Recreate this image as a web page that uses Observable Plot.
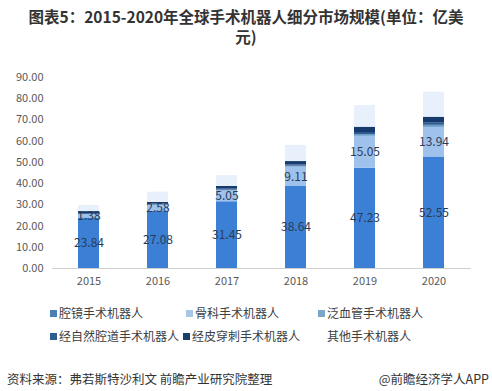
<!DOCTYPE html>
<html>
<head>
<meta charset="utf-8">
<script src="https://cdn.jsdelivr.net/npm/d3@7"></script>
<script src="https://cdn.jsdelivr.net/npm/@observablehq/plot@0.6"></script>
<style>
  html, body { margin: 0; padding: 0; background: #fff; }
  body { width: 492px; height: 391px; position: relative; overflow: hidden;
         font-family: "Noto Sans CJK SC", "Noto Sans", sans-serif; }
  #title { position: absolute; left: 0; top: 6px; width: 492px; text-align: center;
           font-size: 15.5px; font-weight: bold; color: #333; line-height: 20px; }
  #chart { position: absolute; left: 0; top: 55px; }
  .leg { position: absolute; font-size: 12px; color: #404040; white-space: nowrap; line-height: 16px; }
  .leg i { display: inline-block; width: 7px; height: 7px; margin-right: 2px; vertical-align: 1px; }
  #src { position: absolute; left: 7px; top: 369px; font-size: 12.5px; color: #333; }
  #app { position: absolute; right: 3px; top: 369px; font-size: 12.5px; color: #333; }
</style>
</head>
<body>
<div id="title">图表5：2015-2020年全球手术机器人细分市场规模(单位：亿美<br>元)</div>
<div id="chart"></div>
<div id="legend"></div>
<div id="src">资料来源：弗若斯特沙利文 前瞻产业研究院整理</div>
<div id="app">@前瞻经济学人APP</div>
<script>
const years = ["2015", "2016", "2017", "2018", "2019", "2020"];
const seriesNames = ["腔镜手术机器人", "骨科手术机器人", "泛血管手术机器人", "经自然腔道手术机器人", "经皮穿刺手术机器人", "其他手术机器人"];
const laparoscopic = [23.84, 27.08, 31.45, 38.64, 47.23, 52.55];
const orthopedic = [1.38, 2.58, 5.05, 9.11, 15.05, 13.94];
const vascular = [0.3, 0.3, 0.4, 0.45, 0.8, 1.0];
const naturalOrifice = [0.4, 0.4, 0.5, 0.6, 1.0, 1.2];
const percutaneous = [0.9, 0.8, 1.3, 1.6, 2.5, 2.6];
const others = [2.9, 4.8, 5.1, 7.6, 10.2, 11.8];
const yTicks = [0, 10, 20, 30, 40, 50, 60, 70, 80, 90];
const colors = ["#3c80d6", "#9ec2ec", "#6a9dc9", "#2d5b91", "#173a6e", "#e8f1fb"];
const legendColors = ["#4a80b8", "#a9c8e8", "#7aa6c8", "#2f5d8e", "#1d3d6c", "#ffffff"];

const seriesValues = [laparoscopic, orthopedic, vascular, naturalOrifice, percutaneous, others];
const labeled = [true, true, false, false, false, false];
const table = [];
seriesNames.forEach((s, si) => {
  years.forEach((yr, yi) => {
    table.push({year: yr, series: s, value: seriesValues[si][yi],
                label: labeled[si] ? seriesValues[si][yi].toFixed(2) : null});
  });
});

const chart = Plot.plot({
  width: 492,
  height: 240,
  marginLeft: 52,
  marginRight: 21,
  marginTop: 22,
  marginBottom: 27,
  style: {fontFamily: "'Noto Sans CJK SC', 'Noto Sans', sans-serif", fontSize: "11px", color: "#595959", background: "transparent"},
  x: {domain: years, paddingInner: 0.69, paddingOuter: 0.34, label: null, tickSize: 0, tickPadding: 9},
  y: {domain: [0, 90], ticks: yTicks, tickFormat: d3.format(".2f"), label: null, tickSize: 0, tickPadding: 9},
  color: {domain: seriesNames, range: colors},
  marks: [
    Plot.barY(table, Plot.stackY({x: "year", y: "value", z: "series", fill: "series", order: seriesNames})),
    Plot.text(table, Plot.stackY({x: "year", y: "value", z: "series", order: seriesNames, text: "label",
      fill: "#2b3c58", fontSize: 12})),
    Plot.ruleY([0], {stroke: "#d0d0d0"})
  ]
});
document.getElementById("chart").appendChild(chart);

const legPos = [[50, 305], [186, 305], [318, 305], [50, 328], [183, 328], [318, 328]];
const legend = document.getElementById("legend");
seriesNames.forEach((s, i) => {
  const d = document.createElement("div");
  d.className = "leg";
  d.style.left = legPos[i][0] + "px";
  d.style.top = legPos[i][1] + "px";
  d.innerHTML = `<i style="background:${legendColors[i]}"></i>${s}`;
  legend.appendChild(d);
});
</script>
</body>
</html>
